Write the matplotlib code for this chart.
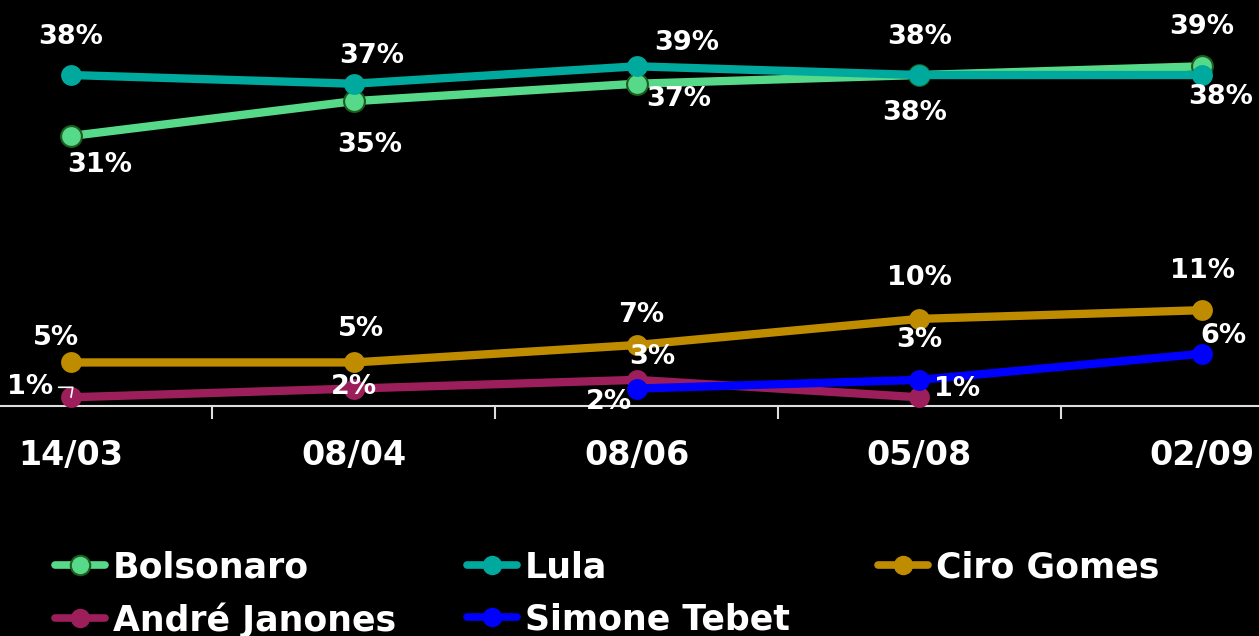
import matplotlib.pyplot as plt
import numpy as np
from matplotlib.lines import Line2D

# datos
fechas = ['14/03', '08/04', '08/06', '05/08', '02/09']
bolsonaro = [31, 35, 37, 38, 39]
lula = [38, 37, 39, 38, 38]
ciro = [5, 5, 7, 10, 11]
janones = [1, 2, 3, 1, np.nan]
tebet = [np.nan, np.nan, 2, 3, 6]

nombres = ['Bolsonaro', 'Lula', 'Ciro Gomes', 'André Janones', 'Simone Tebet']
colores = ['#57d98a', '#00a99d', '#bf8c00', '#9c1f5c', '#0000ff']
series = [bolsonaro, lula, ciro, janones, tebet]

# desplazamiento de las etiquetas (pixeles)
offsets = [
    [(29, -29), (16, -44), (42, -15), (-5, -38), (0, 39)],
    [(0, 38), (18, 28), (50, 23), (0, 38), (19, -22)],
    [(-15, 24), (7, 33), (5, 30), (0, 41), (0, 39)],
    [(-41, 10), (0, 2), (16, 23), (38, 8), None],
    [None, None, (-28, -13), (0, 40), (21, 18)],
]

plt.rcParams['font.family'] = ['DejaVu Sans']
plt.rcParams['font.weight'] = 'bold'

fig = plt.figure(figsize=(12.59, 6.36), dpi=100, facecolor='black')
ax = fig.add_axes([0, 1 - 406 / 636, 1, 406 / 636])
ax.set_facecolor('black')

x = np.arange(len(fechas))
for i, (nom, col, vals) in enumerate(zip(nombres, colores, series)):
    ec = '#1d5e1d' if nom == 'Bolsonaro' else col
    ax.plot(x, vals, color=col, lw=6, marker='o', ms=15, mfc=col,
            mec=ec, mew=1.5 if nom == 'Bolsonaro' else 0, zorder=2 + i,
            solid_capstyle='round', clip_on=False, label=nom)
    for j, v in enumerate(vals):
        if np.isnan(v):
            continue
        dx, dy = offsets[i][j]
        arrow = None
        if nom == 'André Janones' and j == 0:
            arrow = dict(arrowstyle='-', color='white', lw=1.2,
                         shrinkA=2, shrinkB=0,
                         connectionstyle='angle,angleA=0,angleB=80,rad=0')
        ax.annotate(f'{int(v)}%', (x[j], v), xytext=(dx, dy),
                    textcoords='offset pixels', ha='center', va='center',
                    color='white', fontsize=19.5, fontweight='bold',
                    zorder=10, arrowprops=arrow)

ax.set_xlim(-71 / 282.75, (1259 - 71) / 282.75)
ax.set_ylim(0, 406 / 8.71)

for s in ['top', 'right', 'left']:
    ax.spines[s].set_visible(False)
ax.spines['bottom'].set_color('#dddddd')
ax.spines['bottom'].set_linewidth(1.5)
ax.set_yticks([])
ax.set_xticks(x)
ax.set_xticklabels(fechas, color='white', fontsize=24, fontweight='bold')
ax.tick_params(axis='x', which='major', length=0, pad=24)
ax.set_xticks(x[:-1] + 0.5, minor=True)
ax.tick_params(axis='x', which='minor', length=9, width=1.5, color='#dddddd')

# leyenda en tres columnas
columnas = [[0, 3], [1, 4], [2]]
xs_px = [55, 467, 878]
for cols, xp in zip(columnas, xs_px):
    hs = []
    for k in cols:
        ec = '#1d5e1d' if nombres[k] == 'Bolsonaro' else colores[k]
        hs.append(Line2D([], [], color=colores[k], lw=5.5, marker='o', ms=14,
                         mfc=colores[k], mec=ec, solid_capstyle='round',
                         mew=1.5 if nombres[k] == 'Bolsonaro' else 0))
    leg = fig.legend(hs, [nombres[k] for k in cols], loc='upper left',
                     bbox_to_anchor=(xp / 1259, 1 - 550 / 636), frameon=False,
                     handlelength=1.44, handletextpad=0.23, labelspacing=0.52,
                     borderpad=0, borderaxespad=0,
                     prop={'size': 25, 'weight': 'bold'})
    for t in leg.get_texts():
        t.set_color('white')

fig.savefig('out.png', dpi=100, facecolor='black')
